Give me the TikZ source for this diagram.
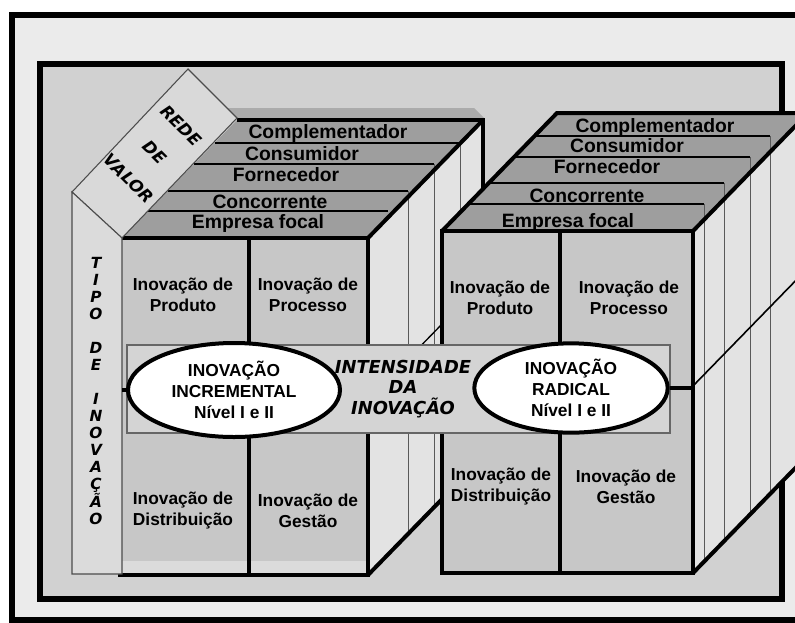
\documentclass[tikz,border=0pt]{standalone}
\usepackage{fontspec}
\setmainfont{Liberation Sans}
\newfontfamily\heavyfont{DejaVu Sans}
\usetikzlibrary{shapes.geometric, positioning}

\begin{document}
\begin{tikzpicture}[x=0.75pt, y=-0.75pt,
    edge/.style={line width=3pt},
    layerline/.style={line width=1.2pt},
    slice/.style={line width=0.7pt, black!65},
    panel/.style={draw=black!70, line width=0.8pt},
    cell/.style={font=\bfseries\fontsize{13}{15.75}\selectfont, align=center, inner sep=0pt},
    layer/.style={font=\bfseries\fontsize{14.5}{15}\selectfont, inner sep=0pt},
    axis/.style={font=\heavyfont\bfseries\itshape\fontsize{13.4}{15.4}\selectfont, align=center, inner sep=0pt},
    level/.style={ellipse, draw, line width=3pt, fill=white, inner sep=0pt, align=center,
        font=\bfseries\fontsize{13}{15.75}\selectfont}]
    \useasboundingbox (0,0) rectangle (795,622);
    \clip (0,0) rectangle (795,622);
    \fill[white] (0,0) rectangle (795,622);
    \draw[line width=4.5pt, fill=black!8] (11.5,15) rectangle (812,620);  % outer frame
    \draw[line width=4.5pt, fill=black!18] (39.5,64) rectangle (781.5,598.5);  % inner frame

    % left cube
    \coordinate (lf1) at (122,238);
    \coordinate (lf2) at (368,238);
    \coordinate (lf3) at (368,575);
    \coordinate (lf4) at (118,575);
    \coordinate (lb1) at (237,120);
    \coordinate (lb2) at (483,120);
    \coordinate (lb3) at (483,457);
    \fill[black!11] (lf2) -- (lb2) -- (lb3) -- (lf3) -- cycle;
    \fill[black!38] (lf1) -- (lb1) -- (lb2) -- (lf2) -- cycle;
    \fill[black!33] (227,108) -- (474,108) -- (484,118) -- (237,118) -- cycle;
    \foreach \y/\x in {143/460,164/434,191/408,211/388} {  % layer borders on top
        \draw[layerline] ({122+(238-\y)*0.975},\y) -- (\x,\y);
    }
    \foreach \y/\x in {143/460,164/434,191/408} {
        \draw[slice] (\x,\y) -- (\x,{575-(\x-368)*118/115});
    }
    \draw[line width=1pt] (368,400) -- (483,282);
    \node[layer] (lcomp) at (328,133) {Complementador};
    \node[layer] (lcons) at (302,154) {Consumidor};
    \node[layer] (lforn) at (286,175) {Fornecedor};
    \node[layer] (lconc) at (270,202) {Concorrente};
    \node[layer] (lemp) at (258,223) {Empresa focal};
    \draw[edge] (lb1) -- (lb2) -- (lb3);
    \draw[edge] (lf2) -- (lb2);
    \draw[edge] (lf3) -- (lb3);
    \fill[black!22] (lf1) rectangle (lf3);
    \fill[black!14] (122,561) rectangle (366,573);
    \draw[edge] (lf1) -- (lf2) -- (lf3) -- (lf4);
    \draw[edge] (249,238) -- (249,575);
    \draw[panel, fill=black!15] (72,192) -- (188,69) -- (237,118) -- (122,238) -- cycle;
    \draw[panel, fill=black!14] (72,192) -- (122,238) -- (122,574) -- (72,574) -- cycle;
    \node[rotate=-45, inner sep=0pt, align=center, font=\heavyfont\bfseries\itshape\fontsize{12.5}{28}\selectfont] (rede) at (155,152) {REDE\\DE\\VALOR};
    \node[inner sep=0pt, align=center, font=\heavyfont\bfseries\itshape\fontsize{11.5}{12.75}\selectfont] (tipo) at (96,391)
        {T\\I\\P\\O\\[12.75pt]D\\E\\[12.75pt]I\\N\\O\\V\\A\\Ç\\Ã\\O};
    \node[cell] (lprod) at (183,295) {Inovação de\\Produto};
    \node[cell] (lproc) at (308,295) {Inovação de\\Processo};
    \node[cell] (ldist) at (183,511) {Inovação de\\Distribuição};
    \node[cell] (lgest) at (308,511) {Inovação de\\Gestão};

    % right cube
    \coordinate (rf1) at (442,231);
    \coordinate (rf2) at (693,231);
    \coordinate (rf3) at (693,573);
    \coordinate (rf4) at (442,573);
    \coordinate (rb1) at (557,113);
    \coordinate (rb2) at (808,113);
    \coordinate (rb3) at (808,455);
    \fill[black!11] (rf2) -- (rb2) -- (rb3) -- (rf3) -- cycle;
    \fill[black!38] (rf1) -- (rb1) -- (rb2) -- (rf2) -- cycle;
    \foreach \y/\x in {136/770,157/750,183/724,204/704} {
        \draw[layerline] ({442+(231-\y)*0.975},\y) -- (\x,\y);
        \draw[slice] (\x,\y) -- (\x,{573-(\x-693)*118/115});
    }
    \node[layer] (rcomp) at (655,127) {Complementador};
    \node[layer] (rcons) at (627,146) {Consumidor};
    \node[layer] (rforn) at (607,167) {Fornecedor};
    \node[layer] (rconc) at (587,196) {Concorrente};
    \node[layer] (remp) at (568,222) {Empresa focal};
    \draw[edge] (rf1) -- (rb1) -- (rb2) -- (rb3);
    \draw[edge] (rf2) -- (rb2);
    \draw[edge] (rf3) -- (rb3);
    \draw[edge, fill=black!22] (rf1) rectangle (rf3);
    \draw[edge] (560,231) -- (560,573);
    \node[cell] (rprod) at (500,298) {Inovação de\\Produto};
    \node[cell] (rproc) at (629,298) {Inovação de\\Processo};
    \node[cell] (rdist) at (501,487) {Inovação de\\Distribuição};
    \node[cell] (rgest) at (626,487) {Inovação de\\Gestão};

    % intensity band
    \draw[draw=black!60, line width=0.8pt, fill=black!17] (127,345) rectangle (670,433);
    \node[axis] (inten) at (403,389) {INTENSIDADE\\DA\\INOVAÇÃO};
    \node[level, minimum width=159pt, minimum height=70.5pt] (incr) at (234,390) {INOVAÇÃO\\INCREMENTAL\\Nível I e II};
    \node[level, minimum width=145pt, minimum height=67pt] (radi) at (571,388) {INOVAÇÃO\\RADICAL\\Nível I e II};
    \coordinate (lmid) at (122,390);
    \coordinate (rmid) at (691,388);
    \coordinate (rback) at (806,270);
    \draw[edge] (lmid) -- (incr.west);
    \draw[edge] (radi.east) -- (rmid);
    \draw[line width=1.2pt] (rmid) -- (rback);
\end{tikzpicture}
\end{document}
